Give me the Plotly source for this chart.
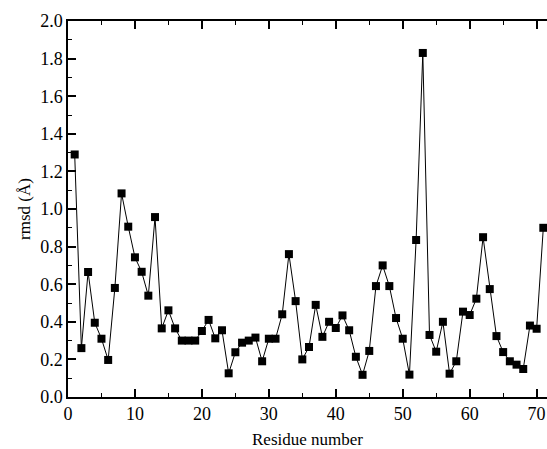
import plotly.graph_objects as go

residue = list(range(1, 72))
rmsd = [1.29, 0.26, 0.665, 0.395, 0.31, 0.197, 0.58, 1.083, 0.906, 0.743,
        0.666, 0.539, 0.957, 0.365, 0.461, 0.365, 0.30, 0.30, 0.30, 0.351,
        0.41, 0.312, 0.355, 0.126, 0.238, 0.289, 0.30, 0.316, 0.19, 0.31,
        0.31, 0.44, 0.76, 0.51, 0.20, 0.266, 0.49, 0.32, 0.40, 0.367,
        0.434, 0.355, 0.214, 0.118, 0.245, 0.59, 0.70, 0.59, 0.42, 0.31,
        0.119, 0.835, 1.83, 0.33, 0.241, 0.40, 0.124, 0.19, 0.454, 0.436,
        0.523, 0.85, 0.574, 0.324, 0.239, 0.19, 0.172, 0.149, 0.38, 0.363,
        0.90]

x_ticks = [0, 10, 20, 30, 40, 50, 60, 70]
y_ticks = [0.0, 0.2, 0.4, 0.6, 0.8, 1.0, 1.2, 1.4, 1.6, 1.8, 2.0]
y_labels = ["%.1f" % v for v in y_ticks]

FONT = "Liberation Serif"

fig = go.Figure()
fig.add_trace(go.Scatter(
    x=residue, y=rmsd, mode="lines+markers",
    line=dict(color="black", width=1),
    marker=dict(symbol="square", size=8, color="black"),
    showlegend=False,
    cliponaxis=False,
))

fig.update_layout(
    width=547, height=449,
    margin=dict(l=68, r=0, t=21, b=52, autoexpand=False),
    paper_bgcolor="white", plot_bgcolor="white",
    font=dict(family=FONT, size=17, color="black"),
    xaxis=dict(
        range=[0, 71.55], tickvals=x_ticks, ticktext=[str(v) for v in x_ticks],
        showline=True, linecolor="black", linewidth=1.5, mirror="ticks",
        ticks="inside", ticklen=8, tickwidth=1.5, tickcolor="black",
        minor=dict(ticks="inside", ticklen=4, tickwidth=1.2, dtick=5, tick0=0, tickcolor="black"),
        showgrid=False, zeroline=False, automargin=False,
        title=dict(text="Residue number", font=dict(family=FONT, size=17), standoff=12),
        tickfont=dict(family=FONT, size=18),
    ),
    yaxis=dict(
        range=[0, 2.0], tickvals=y_ticks, ticktext=y_labels,
        showline=True, linecolor="black", linewidth=1.5, mirror=False,
        ticks="inside", ticklen=8, tickwidth=1.5, tickcolor="black",
        minor=dict(ticks="inside", ticklen=4, tickwidth=1.2, dtick=0.1, tick0=0, tickcolor="black"),
        showgrid=False, zeroline=False, automargin=False,
        title=dict(text="rmsd (Å)", font=dict(family=FONT, size=17), standoff=5),
        tickfont=dict(family=FONT, size=18),
    ),
)

fig.write_html(
    "out.html",
    config={"displayModeBar": False},
    post_script="document.body.style.margin='0px';document.body.style.overflow='hidden';",
)
